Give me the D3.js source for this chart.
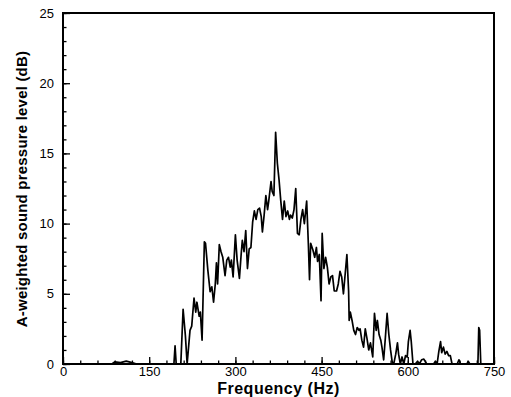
<!DOCTYPE html>
<html>
    <head>
        <meta charset="UTF-8">
        <title>A-weighted spectrum</title>
        <script src="https://d3js.org/d3.v7.min.js"></script>
        <style>
            body{margin:0;background:#fff;}
            text{font-family:"Liberation Sans",Arial,sans-serif;fill:#000;}
        </style>
    </head>
    <body>
        <script>
            var w=511,h=397;
            var margin={top:13,right:17,bottom:33,left:63};

            // spectrum
            var freq = [0,85,90,100,110,120,128,193,195,197,205,209,213,216,221,224,228,231,233,237,239,242,246,248,252,256,259,262,265,267,269,272,275,278,282,285,288,291,293,296,300,303,307,310,312,315,318,321,324,327,330,333,336,339,342,345,347,350,353,356,358,362,364,367,370,373,376,379,382,385,388,391,394,396,399,402,405,408,411,414,417,420,424,427,429,431,435,438,441,443,446,449,451,454,457,460,463,466,469,472,476,479,482,485,488,494,497,498,500,503,506,509,512,515,517,520,523,526,529,532,535,539,542,545,547,550,553,555,558,561,564,567,570,573,576,579,582,584,587,590,593,596,599,601,604,606,609,613,617,620,624,628,633,645,648,651,654,657,659,662,665,668,671,674,677,686,689,692,703,705,708,722,723.5,725,727,750];
            var spl  = [0,0,0.15,0.1,0.2,0.1,0,0,1.3,0,0,3.9,2.0,0,2.4,2.7,4.7,3.7,4.4,3.4,3.7,1.7,8.7,8.6,6.7,5.15,5.5,4.4,5.7,7.2,5.7,8.5,8.0,7.6,6.3,7.4,7.6,6.9,7.4,6.2,9.2,7.4,6.1,7.8,8.8,8.0,9.5,6.8,8.2,8.3,10.1,10.9,10.3,11.0,11.1,10.5,9.4,10.6,12.0,11.0,11.6,13.0,12.3,12.0,16.5,14.3,13.1,11.6,10.3,11.6,10.5,10.9,10.3,10.6,10.4,11.0,12.5,9.3,9.2,10.3,11.0,10.0,11.6,8.5,6.0,8.6,8.1,7.6,8.3,7.3,7.8,4.5,9.3,6.8,7.6,6.9,5.7,6.2,6.3,5.2,5.2,5.7,6.6,6.2,5.0,7.8,5.2,3.1,3.7,3.1,2.4,2.1,2.6,2.4,2.5,1.7,1.2,2.5,1.8,1.0,1.5,0.5,3.6,2.4,3.1,2.1,1.7,1.2,0.3,1.9,3.6,2.1,1.0,0.1,0.1,0.7,1.5,0.7,0,0.5,0,0.6,0.5,1.6,2.4,1.6,0,0,0.2,0,0.3,0.35,0,0,0.2,0,0.9,1.6,0.8,1.2,0.7,0.9,0.6,0.6,0,0,0.3,0,0,0.2,0,0,2.6,2.4,0,0];

            var xTicks = [0,150,300,450,600,750];
            var yTicks = [0,5,10,15,20,25];

            var x = d3.scaleLinear().domain([0,750]).range([margin.left,w-margin.right]);
            var y = d3.scaleLinear().domain([0,25]).range([h-margin.bottom,margin.top]);

            var svg = d3.select("body").append("svg")
                    .attr("width",w)
                    .attr("height",h);

            // minor ticks
            svg.append("g")
                    .attr("transform","translate(0,"+(h-margin.bottom)+")")
                    .call(d3.axisBottom(x).tickValues(d3.range(0,751,30)).tickSize(-3.5).tickFormat(""))
                    .call(function(g){g.select(".domain").remove();});
            svg.append("g")
                    .attr("transform","translate("+margin.left+",0)")
                    .call(d3.axisLeft(y).tickValues(d3.range(0,26,1)).tickSize(-3.5).tickFormat(""))
                    .call(function(g){g.select(".domain").remove();});

            // major ticks + labels
            var gx = svg.append("g")
                    .attr("transform","translate(0,"+(h-margin.bottom)+")")
                    .call(d3.axisBottom(x).tickValues(xTicks).tickSize(-7).tickPadding(3));
            gx.select(".domain").remove();
            gx.selectAll("text").attr("font-size",13).style("font-family","'Liberation Sans',Arial,sans-serif");

            var gy = svg.append("g")
                    .attr("transform","translate("+margin.left+",0)")
                    .call(d3.axisLeft(y).tickValues(yTicks).tickSize(-7).tickPadding(9));
            gy.select(".domain").remove();
            gy.selectAll("text").attr("font-size",13).style("font-family","'Liberation Sans',Arial,sans-serif");

            svg.selectAll(".tick line").attr("stroke","#000").attr("stroke-width",1.3);

            // frame
            svg.append("rect")
                    .attr("x",margin.left)
                    .attr("y",margin.top)
                    .attr("width",w-margin.left-margin.right)
                    .attr("height",h-margin.top-margin.bottom)
                    .attr("fill","none")
                    .attr("stroke","#000")
                    .attr("stroke-width",2);

            var line = d3.line()
                    .x(function(d,i){return x(freq[i]);})
                    .y(function(d){return y(d);});

            svg.append("path")
                    .datum(spl)
                    .attr("d",line)
                    .attr("fill","none")
                    .attr("stroke","#000")
                    .attr("stroke-width",1.7)
                    .attr("stroke-linejoin","round");

            svg.append("text")
                    .attr("x",(margin.left+w-margin.right)/2)
                    .attr("y",394)
                    .attr("text-anchor","middle")
                    .attr("font-size",16)
                    .attr("font-weight","bold")
                    .attr("letter-spacing",0.5)
                    .text("Frequency (Hz)");

            svg.append("text")
                    .attr("transform","translate(27,189) rotate(-90)")
                    .attr("text-anchor","middle")
                    .attr("font-size",15)
                    .attr("font-weight","bold")
                    .attr("letter-spacing",0.2)
                    .text("A-weighted sound pressure level (dB)");
        </script>
    </body>
</html>
